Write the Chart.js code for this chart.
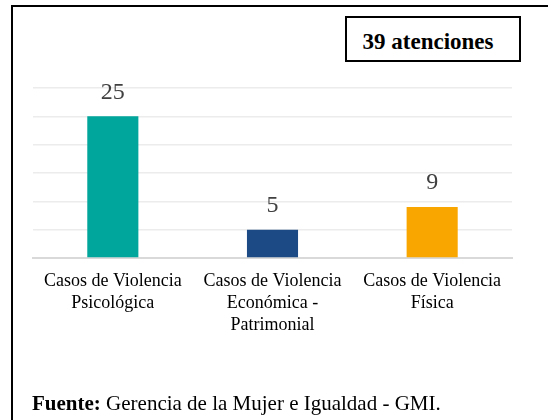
<!DOCTYPE html>
<html>
<head>
<meta charset="utf-8">
<script src="https://cdn.jsdelivr.net/npm/chart.js@4"></script>
<style>
  html, body { margin: 0; padding: 0; background: #fff; overflow: hidden; }
  body { width: 548px; height: 420px; position: relative; font-family: "Liberation Serif", "Times New Roman", serif; }
  #frame { position: absolute; left: 11px; top: 5px; width: 600px; height: 500px; border: 2px solid #000; box-sizing: border-box; }
  #total { position: absolute; left: 345px; top: 16px; width: 176px; height: 46px; border: 2px solid #000; box-sizing: border-box;
           font-weight: bold; font-size: 23px; line-height: 36px; padding-top: 6px; text-align: center; padding-right: 10px;
           background: #fff; white-space: nowrap; }
  #fuente { position: absolute; left: 32px; top: 393px; font-size: 21px; line-height: 21px; color: #000; white-space: nowrap; }
  #wrap { position: absolute; left: 0; top: 0; width: 548px; height: 420px; }
</style>
</head>
<body>
<div id="frame"></div>
<div id="wrap"><canvas id="chart"></canvas></div>
<div id="total">39 atenciones</div>
<div id="fuente"><b>Fuente:</b> Gerencia de la Mujer e Igualdad - GMI.</div>
<script>
// datos
const categorias = [
  ["Casos de Violencia", "Psicológica"],
  ["Casos de Violencia", "Económica -", "Patrimonial"],
  ["Casos de Violencia", "Física"]
];
const casos = [25, 5, 9];
const yTicks = [0, 5, 10, 15, 20, 25, 30];

const colores = ["#00A59B", "#1C4A85", "#F9A700"];
const serif = "'Liberation Serif', 'Times New Roman', serif";

Chart.defaults.font.family = serif;

// etiquetas de valor encima de cada barra
const valorLabels = {
  id: "valorLabels",
  afterDatasetsDraw(chart) {
    const ctx = chart.ctx;
    const meta = chart.getDatasetMeta(0);
    ctx.save();
    ctx.font = "24px " + serif;
    ctx.fillStyle = "#404040";
    ctx.textAlign = "center";
    ctx.textBaseline = "middle";
    meta.data.forEach((bar, i) => {
      ctx.fillText(String(casos[i]), bar.x, bar.y - 24);
    });
    ctx.restore();
  }
};

new Chart(document.querySelector("#chart"), {
  type: "bar",
  data: {
    labels: categorias,
    datasets: [{
      data: casos,
      backgroundColor: colores,
      barPercentage: 0.32,
      categoryPercentage: 1
    }]
  },
  options: {
    responsive: true,
    maintainAspectRatio: false,
    animation: false,
    layout: { padding: { left: 33, right: 36, top: 88, bottom: 0 } },
    plugins: {
      legend: { display: false },
      tooltip: { enabled: false }
    },
    scales: {
      x: {
        grid: { display: false, drawTicks: false },
        border: { display: true, color: "#d9d9d9", width: 2 },
        ticks: {
          color: "#000",
          padding: 12,
          maxRotation: 0,
          font: { family: serif, size: 18, lineHeight: 1.22 }
        },
        afterFit(scale) { scale.height = 162; }
      },
      y: {
        min: 0,
        max: 30,
        afterBuildTicks(scale) { scale.ticks = yTicks.map(v => ({ value: v })); },
        grid: { color: "#ececec", lineWidth: 1.5, drawTicks: false },
        border: { display: false },
        ticks: { display: false },
        afterFit(scale) { scale.width = 0; }
      }
    }
  },
  plugins: [valorLabels]
});
</script>
</body>
</html>
